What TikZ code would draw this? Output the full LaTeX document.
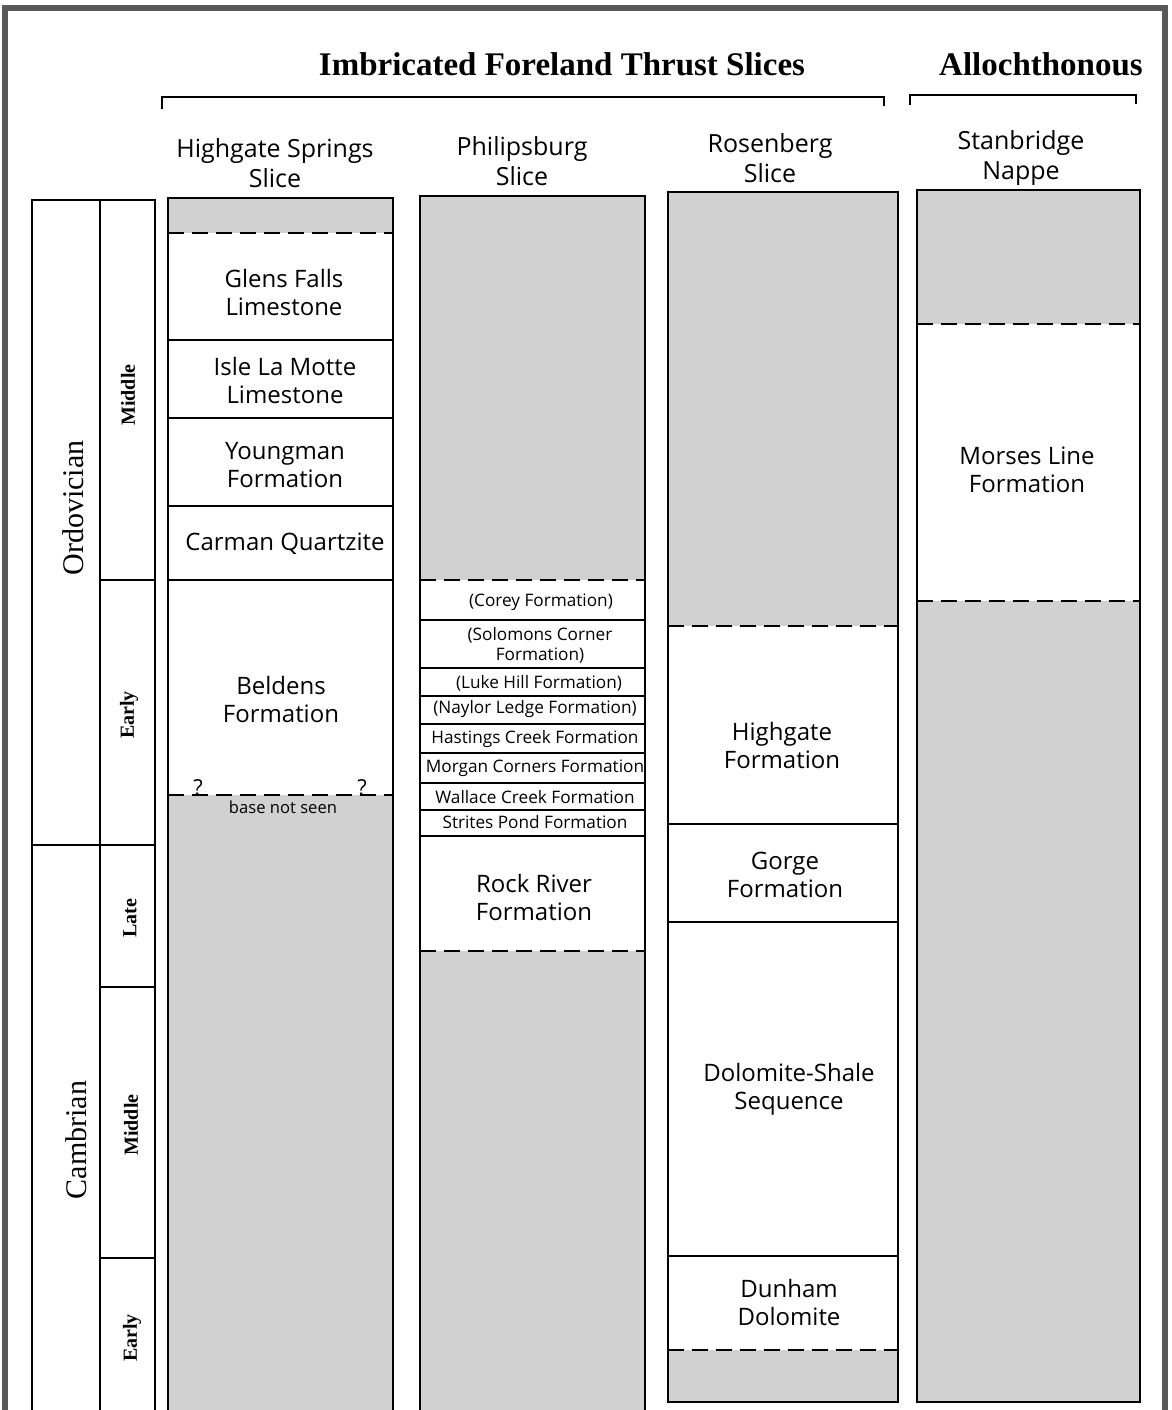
\documentclass[tikz,border=0pt]{standalone}
\usepackage{fontspec}
\setmainfont{Liberation Serif}
\newfontfamily\hand{Open Sans}
\begin{document}
\begin{tikzpicture}[x=0.5pt,y=-0.5pt,
  lay/.style={draw=black,line width=0.8pt},
  contact/.style={draw=black,line width=1.1pt,dash pattern=on 8pt off 4pt},
  shd/.style={fill=black!18},
  fm/.style={font=\hand\fontsize{12}{14}\selectfont,align=center,inner sep=0pt},
  hd/.style={font=\hand\fontsize{12.5}{15}\selectfont,align=center,inner sep=0pt},
  sm/.style={font=\hand\fontsize{8.6}{10}\selectfont,align=center,inner sep=0pt},
  per/.style={font=\fontsize{15}{18}\selectfont,rotate=90,inner sep=0pt},
  ep/.style={font=\bfseries\fontsize{10}{12}\selectfont,rotate=90,inner sep=0pt},
  ttl/.style={font=\bfseries\fontsize{16.5}{19}\selectfont,inner sep=0pt}]
\useasboundingbox (0,0) rectangle (1172,1410);
\fill[white] (0,0) rectangle (1172,1410);
% frame
\draw[line width=3pt,black!65] (5,1410) -- (5,8) -- (1165,8) -- (1165,1410);
% titles and brackets
\node[ttl] (t1) at (562,64) {Imbricated Foreland Thrust Slices};
\node[ttl] (t2) at (1041,64) {Allochthonous};
\draw[line width=1.3pt] (162,109) -- (162,97) -- (884,97) -- (884,106);
\draw[line width=1.3pt] (910,105) -- (910,95) -- (1136,95) -- (1136,104);
% column headers
\node[hd] (h1) at (275,163) {Highgate Springs\\Slice};
\node[hd] (h2) at (522,161) {Philipsburg\\Slice};
\node[hd] (h3) at (770,158) {Rosenberg\\Slice};
\node[hd] (h4) at (1021,158) {Stanbridge\\Nappe};
% time scale
\draw[lay] (32,1410) -- (32,200) -- (155,200) -- (155,1410);
\draw[lay] (100,200) -- (100,1410);
\draw[lay] (32,845) -- (155,845);
\draw[lay] (100,580) -- (155,580);
\draw[lay] (100,987) -- (155,987);
\draw[lay] (100,1258) -- (155,1258);
\node[per] (ord) at (73,508) {Ordovician};
\node[per] (cam) at (76,1140) {Cambrian};
\node[ep] (om) at (128,395) {Middle};
\node[ep] (oe) at (129,715) {Early};
\node[ep] (cl) at (130,918) {Late};
\node[ep] (cm) at (131,1125) {Middle};
\node[ep] (ce) at (132,1338) {Early};
% column 1: Highgate Springs Slice
\fill[shd] (168,198) rectangle (393,233);
\fill[shd] (168,795) rectangle (393,1410);
\draw[lay] (168,1410) -- (168,198) -- (393,198) -- (393,1410);
\draw[contact] (168,233) -- (393,233);
\draw[lay] (168,340) -- (393,340);
\draw[lay] (168,418) -- (393,418);
\draw[lay] (168,506) -- (393,506);
\draw[lay] (168,580) -- (393,580);
\draw[contact] (168,795) -- (393,795);
\node[fm] (gf) at (284,292) {Glens Falls\\Limestone};
\node[fm] (il) at (285,380) {Isle La Motte\\Limestone};
\node[fm] (yf) at (285,465) {Youngman\\Formation};
\node[fm] (cq) at (285,544) {Carman Quartzite};
\node[fm] (bf) at (281,699) {Beldens\\Formation};
\node[inner sep=0pt,font=\hand\fontsize{11}{12}\selectfont] (q1) at (198,788) {?};
\node[inner sep=0pt,font=\hand\fontsize{11}{12}\selectfont] (q2) at (362,788) {?};
\node[inner sep=0pt,font=\hand\fontsize{8.3}{9}\selectfont] (bns) at (283,807) {base not seen};
% column 2: Philipsburg Slice
\fill[shd] (420,196) rectangle (645,580);
\fill[shd] (420,951) rectangle (645,1410);
\draw[lay] (420,1410) -- (420,196) -- (645,196) -- (645,1410);
\draw[contact] (420,580) -- (645,580);
\foreach \yy in {620,668,696,724,753,783,810,836} \draw[lay] (420,\yy) -- (645,\yy);
\draw[contact] (420,951) -- (645,951);
\node[sm] (co) at (541,602) {(Corey Formation)};
\node[sm] (so) at (540,645) {(Solomons Corner\\Formation)};
\node[sm] (lh) at (539,683) {(Luke Hill Formation)};
\node[sm] (nl) at (535,709) {(Naylor Ledge Formation)};
\node[sm] (hc) at (535,739) {Hastings Creek Formation};
\node[sm] (mc) at (535,768) {Morgan Corners Formation};
\node[sm] (wc) at (535,797) {Wallace Creek Formation};
\node[sm] (sp) at (535,822) {Strites Pond Formation};
\node[fm] (rr) at (534,897) {Rock River\\Formation};
% column 3: Rosenberg Slice
\fill[shd] (668,192) rectangle (898,626);
\fill[shd] (668,1350) rectangle (898,1402);
\draw[lay] (668,192) rectangle (898,1402);
\draw[contact] (668,626) -- (898,626);
\draw[lay] (668,824) -- (898,824);
\draw[lay] (668,922) -- (898,922);
\draw[lay] (668,1256) -- (898,1256);
\draw[contact] (668,1350) -- (898,1350);
\node[fm] (hg) at (782,745) {Highgate\\Formation};
\node[fm] (go) at (785,875) {Gorge\\Formation};
\node[fm] (ds) at (789,1089) {Dolomite-Shale\\Sequence};
\node[fm] (dd) at (789,1302) {Dunham\\Dolomite};
% column 4: Stanbridge Nappe
\fill[shd] (917,190) rectangle (1140,324);
\fill[shd] (917,601) rectangle (1140,1402);
\draw[lay] (917,190) rectangle (1140,1402);
\draw[contact] (917,324) -- (1140,324);
\draw[contact] (917,601) -- (1140,601);
\node[fm] (ml) at (1027,470) {Morses Line\\Formation};
\end{tikzpicture}
\end{document}
